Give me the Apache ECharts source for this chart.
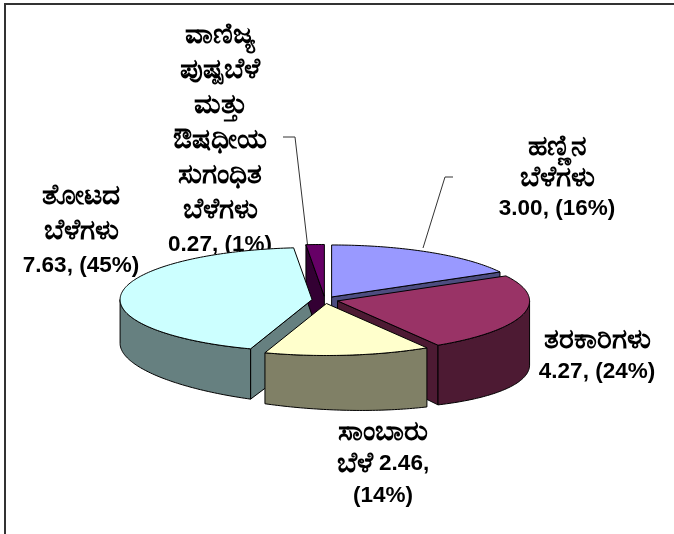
<!DOCTYPE html>
<html><head><meta charset="utf-8">
<script src="https://cdn.jsdelivr.net/npm/echarts@6/dist/echarts.min.js"></script>
<style>html,body{margin:0;padding:0;background:#fff}#c{width:674px;height:534px}</style>
</head><body><div id="c"></div>
<script>
// ---- data ----
const categories = ['ಹಣ್ಣಿನ ಬೆಳೆಗಳು', 'ತರಕಾರಿಗಳು', 'ಸಾಂಬಾರು ಬೆಳೆ', 'ತೋಟದ ಬೆಳೆಗಳು', 'ವಾಣಿಜ್ಯ ಪುಷ್ಪಬೆಳೆ ಮತ್ತು ಔಷಧೀಯ ಸುಗಂಧಿತ ಬೆಳೆಗಳು'];
const values = [3.00, 4.27, 2.46, 7.63, 0.27];
const percentLabels = ['16%', '24%', '14%', '45%', '1%'];

// ---- style / layout ----
const topColors = ['#9999FF', '#993366', '#FFFFCC', '#CCFFFF', '#660066'];
const sideColors = ['#4D4D80', '#4D1A33', '#808066', '#668080', '#330033'];
const geom = { cx: 325, cy: 300, rx: 192, ry: 52, explode: 13, depth: 54, persp: 0.05 };
// word indices after which the label wraps
const labelBreaks = [[0, 1], [0], [0, 2], [0, 1], [0, 1, 2, 3, 4, 5]];
const labelLayout = [
  { x: 557, y: 147, lh: 31 },
  { x: 597, y: 340, lh: 32 },
  { x: 383, y: 432, lh: 32 },
  { x: 81, y: 196, lh: 35 },
  { x: 220, y: 35, lh: 35 }
];
const leaderLines = { 0: [[453, 177], [445, 177], [423, 248]], 4: [[283, 137], [295, 137], [308, 249]] };

const total = values.reduce((a, b) => a + b, 0);
const starts = [];
let acc = 0;
values.forEach(v => { starts.push(acc / total * 360); acc += v; });

function depthAt(x) { return geom.depth + (x - geom.cx) * geom.persp; }
function pt(ang, r, ox, oy, down) {
  const a = ang * Math.PI / 180;
  const x = geom.cx + ox + r * geom.rx * Math.sin(a);
  const y = geom.cy + oy - r * geom.ry * Math.cos(a);
  return down ? [x, y + depthAt(x)] : [x, y];
}
function arc(a0, a1, ox, oy, down) {
  const n = Math.max(2, Math.ceil(Math.abs(a1 - a0)));
  const out = [];
  for (let k = 0; k <= n; k++) out.push(pt(a0 + (a1 - a0) * k / n, 1, ox, oy, down));
  return out;
}

function renderItem(params, api) {
  const i = params.dataIndex;
  const v = api.value(0);
  const s = starts[i];
  const e = s + v / total * 360;
  const mid = (s + e) / 2 * Math.PI / 180;
  const ox = geom.explode * Math.sin(mid);
  const oy = -geom.explode * (geom.ry / geom.rx) * Math.cos(mid);
  const children = [];
  const stroke = { stroke: '#000', lineWidth: 1, lineJoin: 'round' };
  const tipT = pt(0, 0, ox, oy, false), tipB = pt(0, 0, ox, oy, true);
  const faceAngles = [];
  if (Math.sin(s * Math.PI / 180) < -1e-6) faceAngles.push(s);
  if (Math.sin(e * Math.PI / 180) > 1e-6) faceAngles.push(e);
  faceAngles.forEach(a => {
    children.push({
      type: 'polygon', z2: 1,
      shape: { points: [tipT, pt(a, 1, ox, oy, false), pt(a, 1, ox, oy, true), tipB] },
      style: Object.assign({ fill: sideColors[i] }, stroke)
    });
  });
  const w0 = Math.max(s, 90), w1 = Math.min(e, 270);
  if (w1 > w0) {
    const topArc = arc(w0, w1, ox, oy, false);
    const botArc = arc(w0, w1, ox, oy, true).reverse();
    children.push({
      type: 'polygon', z2: 2,
      shape: { points: topArc.concat(botArc) },
      style: Object.assign({ fill: sideColors[i] }, stroke)
    });
  }
  children.push({
    type: 'polygon', z2: 3,
    shape: { points: [tipT].concat(arc(s, e, ox, oy, false)) },
    style: Object.assign({ fill: topColors[i] }, stroke)
  });
  return { type: 'group', children };
}

const numFont = 'bold 22.5px "Liberation Sans", Arial, sans-serif';
const knFont = 'bold 28px "Noto Sans", sans-serif';

const graphics = [{
  type: 'rect', shape: { x: 5, y: 4, width: 700, height: 600 },
  style: { fill: 'none', stroke: '#333', lineWidth: 2 }, silent: true
}];
values.forEach((v, i) => {
  const words = (categories[i] + ' ' + v.toFixed(2) + ', (' + percentLabels[i] + ')').split(' ');
  const lines = [];
  let cur = [];
  words.forEach((w, k) => {
    cur.push(w);
    if (labelBreaks[i].includes(k)) { lines.push(cur.join(' ')); cur = []; }
  });
  if (cur.length) lines.push(cur.join(' '));
  const L = labelLayout[i];
  lines.forEach((t, k) => {
    const runs = t.match(/[\u0C80-\u0CFF\u200C\u200D]+|[^\u0C80-\u0CFF\u200C\u200D]+/g) || [];
    const rich = runs.map(r => ({ text: r, font: /[\u0C80-\u0CFF]/.test(r) ? knFont : numFont }));
    // measure and place each run so the whole line is centred
    const widths = rich.map(r => echarts.format.getTextRect ? echarts.format.getTextRect(r.text, r.font).width : 0);
    const totalW = widths.reduce((a, b) => a + b, 0);
    let x = L.x - totalW / 2;
    rich.forEach((r, j) => {
      graphics.push({
        type: 'text', x: x, y: L.y + k * L.lh,
        style: { text: r.text, font: r.font, fill: '#000', align: 'left', verticalAlign: 'middle' }
      });
      x += widths[j];
    });
  });
  if (leaderLines[i]) {
    graphics.push({
      type: 'polyline', shape: { points: leaderLines[i] },
      style: { stroke: '#333', lineWidth: 1, fill: 'none' }
    });
  }
});

const chart = echarts.init(document.getElementById('c'));
chart.setOption({
  animation: false,
  backgroundColor: '#fff',
  series: [{
    type: 'custom',
    coordinateSystem: 'none',
    renderItem: renderItem,
    data: values.map((v, i) => ({ name: categories[i], value: [v] }))
  }],
  graphic: graphics
});
</script>
</body></html>
